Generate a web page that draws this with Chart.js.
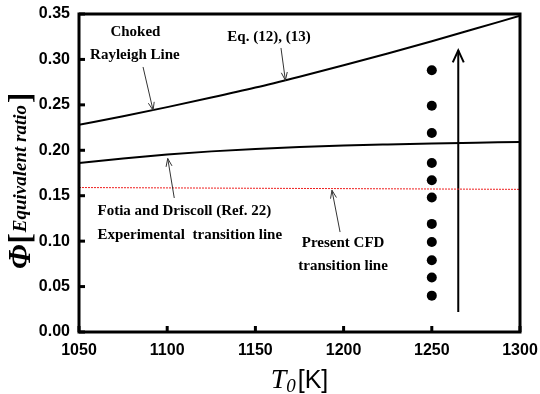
<!DOCTYPE html>
<html>
<head>
<meta charset="utf-8">
<script src="https://cdn.jsdelivr.net/npm/chart.js@4/dist/chart.umd.min.js"></script>
<style>
  html, body { margin: 0; padding: 0; background: #ffffff; }
  #wrap { width: 540px; height: 394px; position: relative; }
</style>
</head>
<body>
<div id="wrap"><canvas id="c" width="540" height="394"></canvas></div>
<script>
// ---------- data ----------
const temperatureK = [1050, 1075, 1100, 1125, 1150, 1175, 1200, 1225, 1250, 1275, 1300];
const chokedRayleighPhi = [0.228, 0.2375, 0.2475, 0.258, 0.269, 0.281, 0.2935, 0.3065, 0.320, 0.334, 0.348];
const fotiaDriscollPhi = [0.186, 0.191, 0.1953, 0.1988, 0.2014, 0.2035, 0.2052, 0.2064, 0.2074, 0.2083, 0.2092];
const cfdLineTemp = [1050, 1300];
const cfdLinePhi = [0.159, 0.157];
const caseTemp = [1250, 1250, 1250, 1250, 1250, 1250, 1250, 1250, 1250, 1250, 1250];
const casePhi = [0.288, 0.249, 0.219, 0.186, 0.167, 0.148, 0.119, 0.099, 0.079, 0.060, 0.040];
const sweepTemp = [1265, 1265];
const sweepPhi = [0.022, 0.310];
const xTickValues = [1050, 1100, 1150, 1200, 1250, 1300];
const yTickValues = [0, 0.05, 0.10, 0.15, 0.20, 0.25, 0.30, 0.35];

// annotation labels (data coordinates)
const labels = [
  { text: 'Choked', x: 1082, y: 0.3305, align: 'center' },
  { text: 'Rayleigh Line', x: 1081.7, y: 0.3049, align: 'center' },
  { text: 'Eq. (12), (13)', x: 1157.7, y: 0.3247, align: 'center' },
  { text: 'Fotia and Driscoll (Ref. 22)', x: 1060.5, y: 0.1332, align: 'left' },
  { text: 'Experimental  transition line', x: 1060.5, y: 0.1068, align: 'left' },
  { text: 'Present CFD', x: 1199.7, y: 0.098, align: 'center' },
  { text: 'transition line', x: 1199.7, y: 0.0726, align: 'center' }
];
// pointer arrows: tail -> head (data coordinates)
const pointers = [
  { from: [1086.3, 0.2917], to: [1092, 0.244] },
  { from: [1164.5, 0.3126], to: [1167, 0.277] },
  { from: [1104, 0.1475], to: [1100.3, 0.191] },
  { from: [1198, 0.110], to: [1193.4, 0.156] }
];

const pts = (xs, ys) => xs.map((x, i) => ({ x: x, y: ys[i] }));

function drawArrowHead(ctx, x1, y1, x2, y2, len, halfW) {
  const a = Math.atan2(y2 - y1, x2 - x1);
  const ca = Math.cos(a), sa = Math.sin(a);
  const bx = x2 - len * ca, by = y2 - len * sa;
  ctx.beginPath();
  ctx.moveTo(bx - halfW * sa, by + halfW * ca);
  ctx.lineTo(x2, y2);
  ctx.lineTo(bx + halfW * sa, by - halfW * ca);
  ctx.stroke();
}

const decor = {
  id: 'decor',
  afterDatasetsDraw(chart) {
    const ctx = chart.ctx;
    const xs = chart.scales.x, ys = chart.scales.y;
    const ca = chart.chartArea;
    ctx.save();
    // inward ticks
    ctx.strokeStyle = '#000';
    ctx.lineWidth = 3;
    xTickValues.forEach(v => {
      const px = xs.getPixelForValue(v);
      ctx.beginPath(); ctx.moveTo(px, ca.bottom); ctx.lineTo(px, ca.bottom - 6); ctx.stroke();
    });
    yTickValues.forEach(v => {
      const py = ys.getPixelForValue(v);
      ctx.beginPath(); ctx.moveTo(ca.left, py); ctx.lineTo(ca.left + 6, py); ctx.stroke();
    });
    // frame
    ctx.lineWidth = 3;
    ctx.strokeRect(ca.left, ca.top, ca.right - ca.left, ca.bottom - ca.top);

    // sweep arrow head
    ctx.lineWidth = 2;
    const ax = xs.getPixelForValue(sweepTemp[1]);
    const ay = ys.getPixelForValue(sweepPhi[1]);
    const ay0 = ys.getPixelForValue(sweepPhi[0]);
    drawArrowHead(ctx, ax, ay0, ax, ay, 12, 5.5);

    // pointer arrows
    ctx.strokeStyle = '#333';
    ctx.lineWidth = 1;
    pointers.forEach(p => {
      const x1 = xs.getPixelForValue(p.from[0]), y1 = ys.getPixelForValue(p.from[1]);
      const x2 = xs.getPixelForValue(p.to[0]), y2 = ys.getPixelForValue(p.to[1]);
      ctx.beginPath(); ctx.moveTo(x1, y1); ctx.lineTo(x2, y2); ctx.stroke();
      drawArrowHead(ctx, x1, y1, x2, y2, 8, 3);
    });

    // annotation labels
    ctx.fillStyle = '#000';
    ctx.font = 'bold 15px "Liberation Serif", "Times New Roman", serif';
    ctx.textBaseline = 'middle';
    labels.forEach(l => {
      ctx.textAlign = l.align;
      ctx.fillText(l.text, xs.getPixelForValue(l.x), ys.getPixelForValue(l.y));
    });

    // x-axis title: T0[K]
    const cx = (ca.left + ca.right) / 2;
    const base = 390;
    ctx.textAlign = 'left';
    ctx.textBaseline = 'alphabetic';
    const fT = 'italic 28px "Liberation Serif", serif';
    const f0 = 'italic 19px "Liberation Serif", serif';
    const fK = '25px "Liberation Sans", Arial, sans-serif';
    ctx.font = fT; const wT = ctx.measureText('T').width;
    ctx.font = f0; const w0 = ctx.measureText('0').width;
    ctx.font = fK; const wK = ctx.measureText('[K]').width;
    let sx = cx - (wT + w0 + wK + 2) / 2;
    ctx.font = fT; ctx.fillText('T', sx, base - 2); sx += wT;
    ctx.font = f0; ctx.fillText('0', sx, base + 2); sx += w0 + 2;
    ctx.font = fK; ctx.fillText('[K]', sx, base - 2);

    // y-axis title: Φ[Equivalent ratio]
    ctx.save();
    ctx.rotate(-Math.PI / 2);
    const fPhi = 'bold italic 31px "Liberation Serif", serif';
    const fBr = 'bold 31px "Liberation Serif", serif';
    const fTx = 'bold italic 19px "Liberation Serif", serif';
    let ry = -269;
    const bx = 30;
    ctx.font = fPhi; ctx.fillText('\u03A6', ry, bx); ry += ctx.measureText('\u03A6').width + 1;
    ctx.font = fBr; ctx.fillText('[', ry, bx); ry += ctx.measureText('[').width + 1;
    ctx.font = fTx; ctx.fillText('Equivalent ratio', ry, bx - 4); ry += ctx.measureText('Equivalent ratio').width + 2;
    ctx.font = fBr; ctx.fillText(']', ry, bx);
    ctx.restore();

    ctx.restore();
  }
};

new Chart(document.getElementById('c'), {
  type: 'scatter',
  data: {
    datasets: [
      {
        label: 'Choked Rayleigh Line',
        data: pts(temperatureK, chokedRayleighPhi),
        showLine: true, borderColor: '#000', borderWidth: 2, pointRadius: 0, cubicInterpolationMode: 'monotone'
      },
      {
        label: 'Fotia and Driscoll',
        data: pts(temperatureK, fotiaDriscollPhi),
        showLine: true, borderColor: '#000', borderWidth: 2, pointRadius: 0, cubicInterpolationMode: 'monotone'
      },
      {
        label: 'Present CFD transition line',
        data: pts(cfdLineTemp, cfdLinePhi),
        showLine: true, borderColor: '#ee1c1c', borderWidth: 1, borderDash: [2, 1], pointRadius: 0
      },
      {
        label: 'Cases',
        data: pts(caseTemp, casePhi),
        showLine: false, pointRadius: 5, pointBackgroundColor: '#000', pointBorderColor: '#000', pointBorderWidth: 0
      },
      {
        label: 'Sweep',
        data: pts(sweepTemp, sweepPhi),
        showLine: true, borderColor: '#000', borderWidth: 2, pointRadius: 0
      }
    ]
  },
  options: {
    responsive: false,
    animation: false,
    layout: { padding: { top: 14, right: 20, left: 0, bottom: 0 } },
    plugins: { legend: { display: false }, tooltip: { enabled: false }, title: { display: false } },
    scales: {
      x: {
        type: 'linear', min: 1050, max: 1300,
        afterBuildTicks: s => { s.ticks = xTickValues.map(v => ({ value: v })); },
        afterFit: s => { s.height = 62; s.paddingLeft = 0; s.paddingRight = 0; },
        grid: { display: false, drawTicks: false },
        border: { display: false },
        ticks: { padding: 9, color: '#000', callback: v => String(v),
          font: { family: '"Liberation Sans", Arial, sans-serif', size: 16, weight: 'bold' } }
      },
      y: {
        type: 'linear', min: 0, max: 0.35,
        afterBuildTicks: s => { s.ticks = yTickValues.map(v => ({ value: v })); },
        afterFit: s => { s.width = 79; s.paddingTop = 0; s.paddingBottom = 0; },
        grid: { display: false, drawTicks: false },
        border: { display: false },
        ticks: { padding: 9, color: '#000', callback: v => Number(v).toFixed(2),
          font: { family: '"Liberation Sans", Arial, sans-serif', size: 16, weight: 'bold' } }
      }
    }
  },
  plugins: [decor]
});
</script>
</body>
</html>
